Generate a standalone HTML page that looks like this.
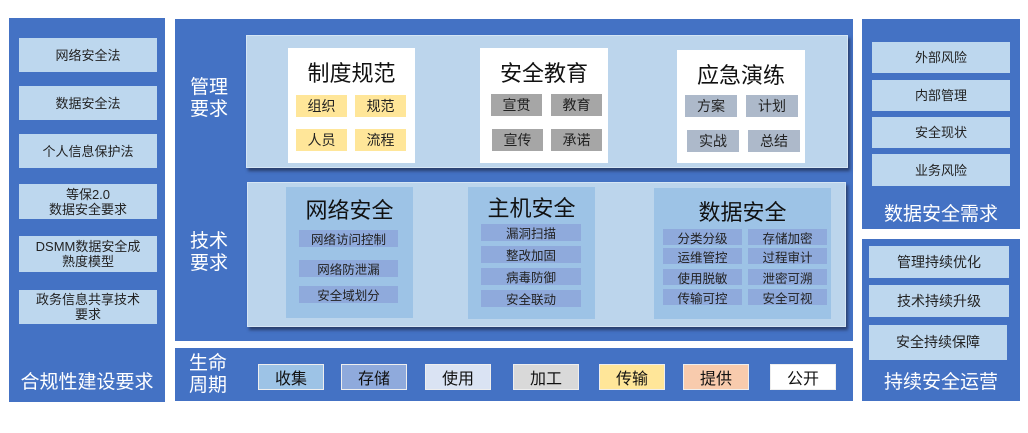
<!DOCTYPE html>
<html><head><meta charset="utf-8"><style>
*{margin:0;padding:0;box-sizing:border-box}
body{width:1028px;height:433px;background:#fff;position:relative;overflow:hidden;font-family:"Liberation Sans","Noto Sans CJK SC",sans-serif}
div{position:absolute}
.p{background:#4472C4}
.lb{background:#BDD7EE;display:flex;align-items:center;justify-content:center;text-align:center;color:#222;font-size:13px;line-height:15px}
.t{display:flex;align-items:center;justify-content:center;text-align:center}
.wt{color:#fff;font-size:19px;line-height:22px}
.inner{background:#BCD5EC;box-shadow:2px 3px 3px #2a3f6e;border:1px solid #d5e5f4}
.card{background:#fff}
.ct{font-size:22px;color:#111;text-align:center;width:100%}
.tg{font-size:14px;color:#222}
.y{background:#FFE699}.g{background:#A6A6A6}.s{background:#ADB9CA}
.tc{background:#9DC3E6}
.tt{background:#8FAADC;font-size:12.5px;color:#222}
.lc{font-size:16px;color:#111;border:1px solid #eee}
</style></head><body>
<!-- left -->
<div class="p" style="left:9px;top:18px;width:156px;height:384px"></div>
<div class="lb" style="left:19px;top:38px;width:138px;height:34px">网络安全法</div>
<div class="lb" style="left:19px;top:86px;width:138px;height:34px">数据安全法</div>
<div class="lb" style="left:19px;top:134px;width:138px;height:34px">个人信息保护法</div>
<div class="lb" style="left:19px;top:184px;width:138px;height:35px">等保2.0<br>数据安全要求</div>
<div class="lb" style="left:19px;top:236px;width:138px;height:36px">DSMM数据安全成<br>熟度模型</div>
<div class="lb" style="left:19px;top:290px;width:138px;height:34px">政务信息共享技术<br>要求</div>
<div class="t wt" style="left:9px;top:370px;width:156px;height:26px">合规性建设要求</div>
<!-- center -->
<div class="p" style="left:175px;top:19px;width:678px;height:322px"></div>
<div class="t wt" style="left:180px;top:76px;width:58px;height:46px">管理<br>要求</div>
<div class="t wt" style="left:180px;top:230px;width:58px;height:46px">技术<br>要求</div>
<div class="inner" style="left:246px;top:35px;width:602px;height:133px"></div>
<div class="card" style="left:288px;top:48px;width:127px;height:115px"><div class="ct" style="top:8px">制度规范</div></div>
<div class="t tg y" style="left:296px;top:95px;width:51px;height:22px">组织</div>
<div class="t tg y" style="left:355px;top:95px;width:51px;height:22px">规范</div>
<div class="t tg y" style="left:296px;top:129px;width:51px;height:22px">人员</div>
<div class="t tg y" style="left:355px;top:129px;width:51px;height:22px">流程</div>
<div class="card" style="left:480px;top:48px;width:128px;height:115px"><div class="ct" style="top:8px">安全教育</div></div>
<div class="t tg g" style="left:491px;top:94px;width:51px;height:22px">宣贯</div>
<div class="t tg g" style="left:551px;top:94px;width:51px;height:22px">教育</div>
<div class="t tg g" style="left:492px;top:129px;width:51px;height:22px">宣传</div>
<div class="t tg g" style="left:551px;top:129px;width:51px;height:22px">承诺</div>
<div class="card" style="left:677px;top:50px;width:128px;height:113px"><div class="ct" style="top:8px">应急演练</div></div>
<div class="t tg s" style="left:685px;top:95px;width:52px;height:22px">方案</div>
<div class="t tg s" style="left:746px;top:95px;width:52px;height:22px">计划</div>
<div class="t tg s" style="left:687px;top:130px;width:52px;height:22px">实战</div>
<div class="t tg s" style="left:748px;top:130px;width:52px;height:22px">总结</div>
<div class="inner" style="left:247px;top:182px;width:599px;height:145px"></div>
<div class="tc" style="left:286px;top:187px;width:127px;height:131px"><div class="ct" style="top:6px">网络安全</div></div>
<div class="t tt" style="left:299px;top:230px;width:99px;height:17px">网络访问控制</div>
<div class="t tt" style="left:299px;top:260px;width:99px;height:17px">网络防泄漏</div>
<div class="t tt" style="left:299px;top:286px;width:99px;height:17px">安全域划分</div>
<div class="tc" style="left:468px;top:187px;width:127px;height:132px"><div class="ct" style="top:4px">主机安全</div></div>
<div class="t tt" style="left:481px;top:224px;width:100px;height:17px">漏洞扫描</div>
<div class="t tt" style="left:481px;top:246px;width:100px;height:17px">整改加固</div>
<div class="t tt" style="left:481px;top:268px;width:100px;height:17px">病毒防御</div>
<div class="t tt" style="left:481px;top:290px;width:100px;height:17px">安全联动</div>
<div class="tc" style="left:654px;top:188px;width:177px;height:131px"><div class="ct" style="top:7px">数据安全</div></div>
<div class="t tt" style="left:663px;top:229px;width:79px;height:16px">分类分级</div>
<div class="t tt" style="left:748px;top:229px;width:79px;height:16px">存储加密</div>
<div class="t tt" style="left:663px;top:248px;width:79px;height:16px">运维管控</div>
<div class="t tt" style="left:748px;top:248px;width:79px;height:16px">过程审计</div>
<div class="t tt" style="left:663px;top:269px;width:79px;height:16px">使用脱敏</div>
<div class="t tt" style="left:748px;top:269px;width:79px;height:16px">泄密可溯</div>
<div class="t tt" style="left:663px;top:289px;width:79px;height:16px">传输可控</div>
<div class="t tt" style="left:748px;top:289px;width:79px;height:16px">安全可视</div>
<!-- lifecycle -->
<div class="p" style="left:175px;top:348px;width:678px;height:53px"></div>
<div class="t wt" style="left:180px;top:352px;width:56px;height:46px">生命<br>周期</div>
<div class="t lc" style="left:258px;top:364px;width:66px;height:26px;background:#9DC3E6">收集</div>
<div class="t lc" style="left:341px;top:364px;width:66px;height:26px;background:#8FAADC">存储</div>
<div class="t lc" style="left:425px;top:364px;width:66px;height:26px;background:#DAE3F3">使用</div>
<div class="t lc" style="left:513px;top:364px;width:66px;height:26px;background:#D9D9D9">加工</div>
<div class="t lc" style="left:599px;top:364px;width:66px;height:26px;background:#FFE699">传输</div>
<div class="t lc" style="left:683px;top:364px;width:66px;height:26px;background:#F8CBAD">提供</div>
<div class="t lc" style="left:770px;top:364px;width:66px;height:26px;background:#fff">公开</div>
<!-- right -->
<div class="p" style="left:862px;top:19px;width:158px;height:210px"></div>
<div class="lb" style="left:872px;top:42px;width:138px;height:31px">外部风险</div>
<div class="lb" style="left:872px;top:80px;width:138px;height:31px">内部管理</div>
<div class="lb" style="left:872px;top:117px;width:138px;height:31px">安全现状</div>
<div class="lb" style="left:872px;top:154px;width:138px;height:32px">业务风险</div>
<div class="t wt" style="left:862px;top:203px;width:158px;height:24px">数据安全需求</div>
<div class="p" style="left:862px;top:239px;width:158px;height:162px"></div>
<div class="lb" style="left:869px;top:246px;width:140px;height:32px;font-size:14px">管理持续优化</div>
<div class="lb" style="left:869px;top:285px;width:140px;height:32px;font-size:14px">技术持续升级</div>
<div class="lb" style="left:869px;top:325px;width:138px;height:35px;font-size:14px">安全持续保障</div>
<div class="t wt" style="left:862px;top:370px;width:158px;height:26px">持续安全运营</div>
</body></html>
